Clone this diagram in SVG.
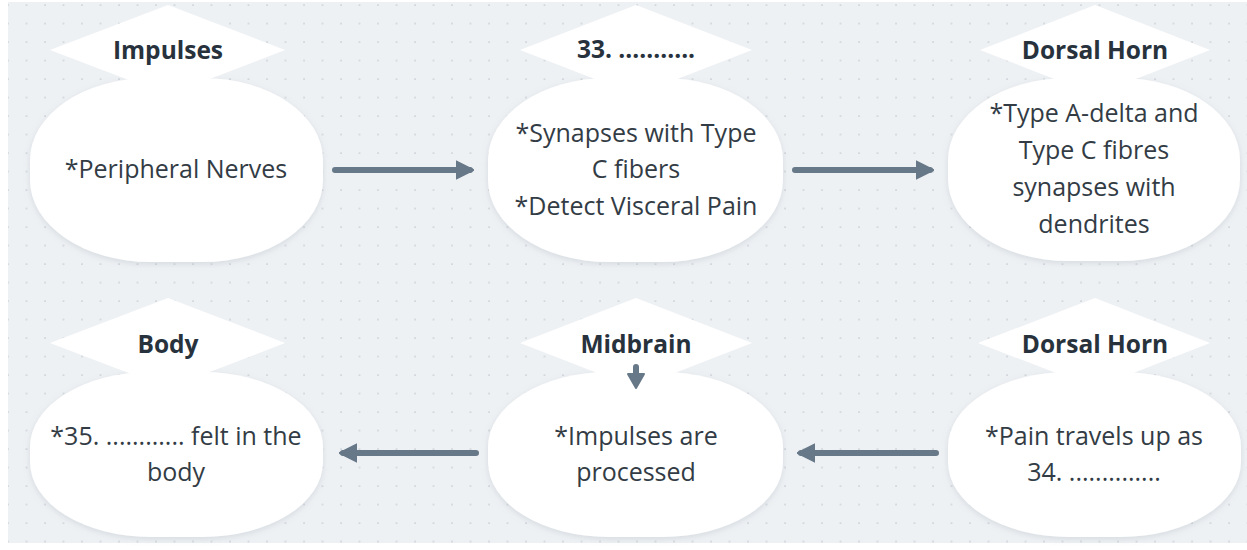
<svg xmlns="http://www.w3.org/2000/svg" width="1247" height="550" viewBox="0 0 1247 550">
<style>
.blob{fill:#ffffff;filter:url(#sh)}
.dia{fill:#ffffff}
.title{font-family:"Open Sans","Liberation Sans",sans-serif;font-weight:bold;font-size:24.5px;fill:#27323c;text-anchor:middle}
.body{font-family:"Open Sans","Liberation Sans",sans-serif;font-size:25px;fill:#333c45;text-anchor:middle}
.conn{stroke:#677888;stroke-width:6;stroke-linecap:round;fill:none}
</style>
<defs>
<pattern id="dots" x="6" y="3" width="18.5" height="18.5" patternUnits="userSpaceOnUse">
<circle cx="2" cy="2" r="0.9" fill="#c6ccd3"/>
</pattern>
<filter id="sh" x="-10%" y="-10%" width="120%" height="125%">
<feDropShadow dx="0" dy="2" stdDeviation="3" flood-color="#8a96a3" flood-opacity="0.25"/>
</filter>
<marker id="ah" viewBox="0 0 10 10" refX="8" refY="5" markerWidth="3" markerHeight="3.4" orient="auto" markerUnits="strokeWidth">
<path d="M0,0 L10,5 L0,10 Z" fill="#677888" stroke="#677888" stroke-linejoin="round"/>
</marker>
</defs>
<rect x="0" y="0" width="1247" height="550" fill="#ffffff"/>
<rect x="8" y="2" width="1239" height="541" fill="#eef1f4"/>
<rect x="8" y="2" width="1239" height="541" fill="url(#dots)"/>

<g id="connectors">
<line class="conn" x1="335" y1="170" x2="470" y2="170" marker-end="url(#ah)"/>
<line class="conn" x1="795" y1="170" x2="930" y2="170" marker-end="url(#ah)"/>
<line class="conn" x1="936" y1="453" x2="801" y2="453" marker-end="url(#ah)"/>
<line class="conn" x1="476" y1="453" x2="343" y2="453" marker-end="url(#ah)"/>
</g>

<g id="node-impulses">
<rect class="blob" x="30" y="78" width="293" height="184" rx="120" ry="82"/>
<polygon class="dia" points="168,5 285,50 168,95 50,50"/>
<text class="title" x="168" y="59">Impulses</text>
<text class="body" x="176" y="178">*Peripheral Nerves</text>
</g>

<g id="node-33">
<rect class="blob" x="488" y="78" width="295" height="184" rx="120" ry="82"/>
<polygon class="dia" points="636,5 752,50 636,95 520,50"/>
<text class="title" x="636" y="58">33. ...........</text>
<text class="body" x="636" y="142">*Synapses with Type</text>
<text class="body" x="636" y="178">C fibers</text>
<text class="body" x="636" y="215">*Detect Visceral Pain</text>
</g>

<g id="node-dorsal-top">
<rect class="blob" x="948" y="78" width="292" height="183" rx="120" ry="82"/>
<polygon class="dia" points="1095,5 1210,50 1095,95 980,50"/>
<text class="title" x="1095" y="59">Dorsal Horn</text>
<text class="body" x="1094" y="122">*Type A-delta and</text>
<text class="body" x="1094" y="159">Type C fibres</text>
<text class="body" x="1094" y="196">synapses with</text>
<text class="body" x="1094" y="233">dendrites</text>
</g>

<g id="node-body">
<rect class="blob" x="30" y="372" width="293" height="165" rx="120" ry="75"/>
<polygon class="dia" points="168,298 285,343 168,388 50,343"/>
<text class="title" x="168" y="353">Body</text>
<text class="body" x="176" y="445">*35. ............ felt in the</text>
<text class="body" x="176" y="481">body</text>
</g>

<g id="node-midbrain">
<rect class="blob" x="488" y="372" width="295" height="165" rx="120" ry="75"/>
<polygon class="dia" points="636,298 752,343 636,388 520,343"/>
<text class="title" x="636" y="353">Midbrain</text>
<line class="conn" x1="636" y1="367" x2="636" y2="374" stroke-width="5"/>
<path d="M628,374 L644,374 L636,388 Z" fill="#677888" stroke="#677888" stroke-width="2" stroke-linejoin="round"/>
<text class="body" x="636" y="445">*Impulses are</text>
<text class="body" x="636" y="481">processed</text>
</g>

<g id="node-dorsal-bottom">
<rect class="blob" x="948" y="372" width="293" height="165" rx="120" ry="75"/>
<polygon class="dia" points="1095,298 1210,343 1095,388 978,343"/>
<text class="title" x="1095" y="353">Dorsal Horn</text>
<text class="body" x="1094" y="445">*Pain travels up as</text>
<text class="body" x="1094" y="481">34. ..............</text>
</g>
</svg>
